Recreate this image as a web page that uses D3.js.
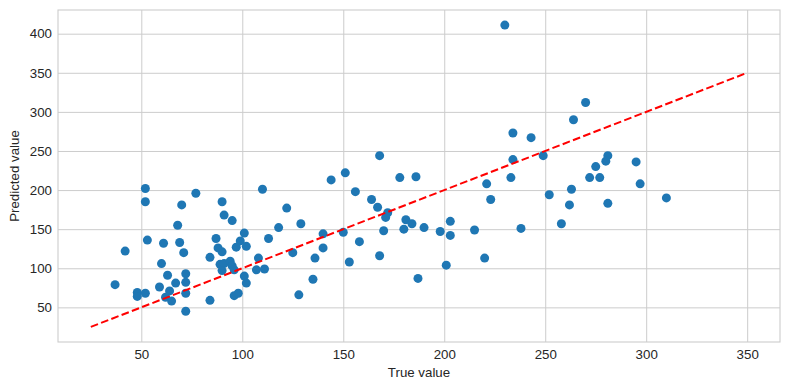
<!DOCTYPE html>
<html>
<head>
<meta charset="utf-8">
<script src="https://cdn.jsdelivr.net/npm/d3@7"></script>
<style>
  body { margin: 0; background: #fff; }
  svg { display: block; }
  text { font-family: "Liberation Sans", Arial, sans-serif; fill: #262626; }
</style>
</head>
<body>
<svg id="chart" width="790" height="390"></svg>
<script>
// True values (x) and predicted values (y)
const trueValues = [
  37, 42, 48, 48, 52, 52, 52, 53, 59, 60, 61, 63, 64, 62, 65, 67, 68, 69, 70, 71,
  72, 72, 72, 72, 77, 84, 84, 87, 88, 90, 90, 89, 91, 90, 91, 94, 95, 95, 96, 96,
  98, 97, 99, 101, 102, 101, 102, 108, 107, 111, 110, 113, 118, 122, 125, 129, 128, 135, 136, 140,
  140, 144, 151, 150, 153, 156, 158, 164, 167, 168, 170, 168, 171, 172, 178, 186, 181, 184, 180, 190,
  187, 198, 203, 203, 201, 215, 220, 221, 223, 233, 234, 234, 243, 249, 238, 252, 258, 262, 263, 230,
  270, 264, 281, 280, 275, 272, 277, 295, 297, 281, 310
];
const predictedValues = [
  79, 122, 69, 64, 68, 202, 185, 136, 76, 106, 132, 91, 71, 63, 58, 81, 155, 133, 181, 120,
  93, 82, 68, 45, 196, 59, 114, 138, 126, 185, 121, 105, 106, 97, 168, 109, 161, 103, 98, 65,
  68, 127, 135, 145, 128, 90, 81, 113, 98, 99, 201, 138, 152, 177, 120, 157, 66, 86, 113, 126,
  144, 213, 222, 146, 108, 198, 134, 188, 178, 244, 148, 116, 165, 171, 216, 217, 162, 157, 150, 152,
  87, 147, 160, 142, 104, 149, 113, 208, 188, 216, 239, 273, 267, 244, 151, 194, 157, 181, 201, 411,
  312, 290, 244, 237, 230, 216, 216, 236, 208, 183, 190
];
const xTicks = [50, 100, 150, 200, 250, 300, 350];
const yTicks = [50, 100, 150, 200, 250, 300, 350, 400];
const lineEnds = [25, 350];

const svg = d3.select("#chart");
const L = 58, R = 780, T = 10, B = 342;

// matplotlib-like 5% margins
const xmin = Math.min(d3.min(trueValues), lineEnds[0]);
const xmax = Math.max(d3.max(trueValues), lineEnds[1]);
const ymin = Math.min(d3.min(predictedValues), lineEnds[0]);
const ymax = Math.max(d3.max(predictedValues), lineEnds[1]);
const xm = (xmax - xmin) * 0.05, ym = (ymax - ymin) * 0.05;

const x = d3.scaleLinear().domain([xmin - xm, xmax + xm]).range([L, R]);
const y = d3.scaleLinear().domain([ymin - ym, ymax + ym]).range([B, T]);

// grid
const gx = svg.append("g").attr("transform", `translate(0,${B})`)
  .call(d3.axisBottom(x).tickValues(xTicks).tickSize(-(B - T)).tickPadding(8));
const gy = svg.append("g").attr("transform", `translate(${L},0)`)
  .call(d3.axisLeft(y).tickValues(yTicks).tickSize(-(R - L)).tickPadding(6));
[gx, gy].forEach(g => {
  g.select(".domain").remove();
  g.selectAll(".tick line").attr("stroke", "#cccccc").attr("stroke-width", 1);
  g.selectAll(".tick text").style("font-size", "13.3px").attr("fill", "#262626");
});

// frame
svg.append("rect").attr("x", L).attr("y", T).attr("width", R - L).attr("height", B - T)
  .attr("fill", "none").attr("stroke", "#cccccc").attr("stroke-width", 1.1);

// points
svg.append("g").selectAll("circle")
  .data(trueValues.map((v, i) => [v, predictedValues[i]]))
  .join("circle")
  .attr("cx", d => x(d[0])).attr("cy", d => y(d[1]))
  .attr("r", 4.5).attr("fill", "#1f77b4");

// identity line
svg.append("line")
  .attr("x1", x(lineEnds[0])).attr("y1", y(lineEnds[0]))
  .attr("x2", x(lineEnds[1])).attr("y2", y(lineEnds[1]))
  .attr("stroke", "#ff0000").attr("stroke-width", 2)
  .attr("stroke-dasharray", "7.7,3.3");

// axis labels
svg.append("text").attr("x", (L + R) / 2).attr("y", 377)
  .attr("text-anchor", "middle").style("font-size", "13.3px").text("True value");
svg.append("text").attr("transform", `translate(19,${(T + B) / 2}) rotate(-90)`)
  .attr("text-anchor", "middle").style("font-size", "13.3px").text("Predicted value");
</script>
</body>
</html>
